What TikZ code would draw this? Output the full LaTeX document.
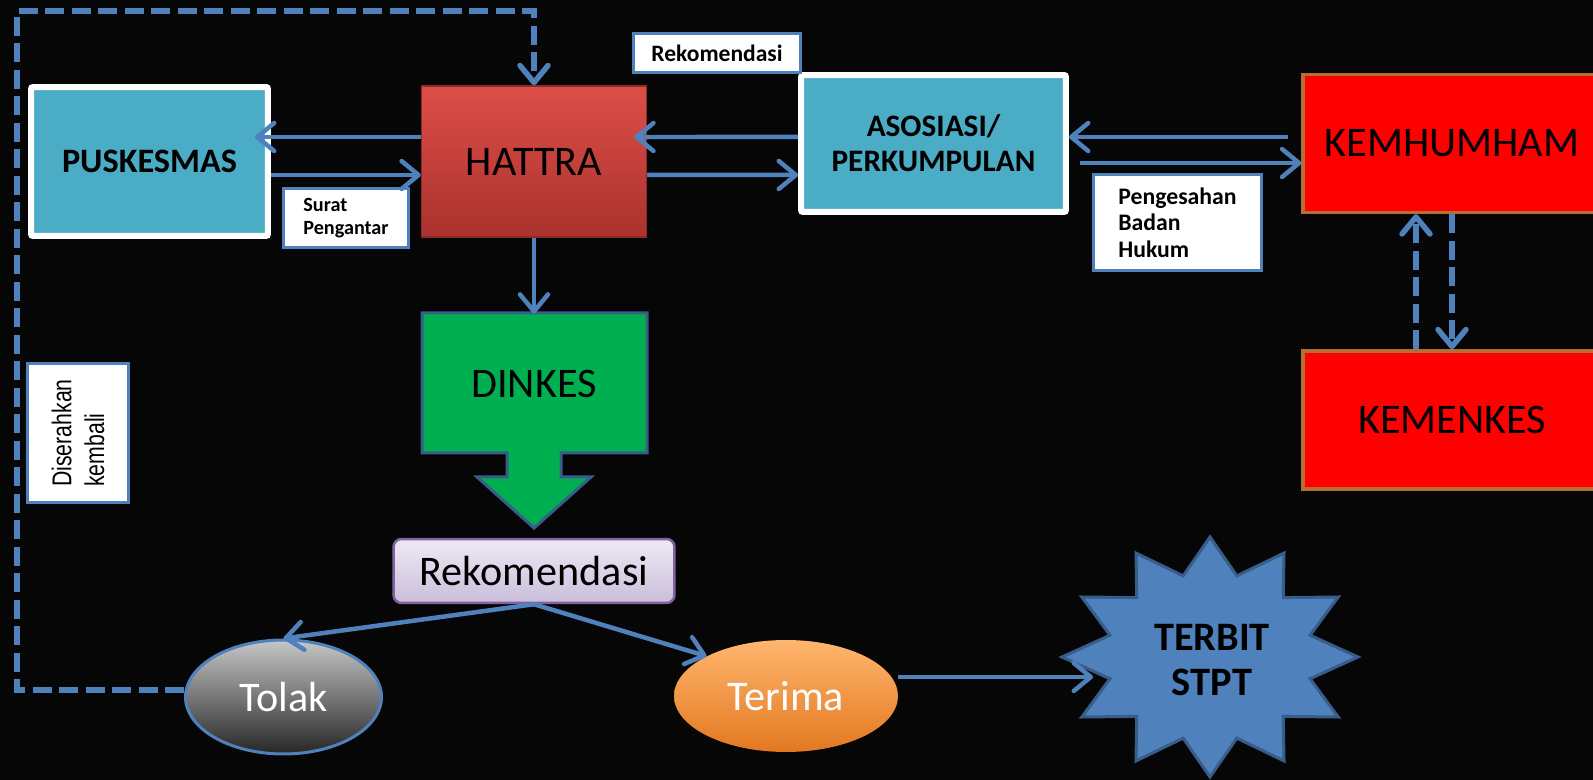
\documentclass[tikz,border=0pt]{standalone}
\usepackage{fontspec}
\setmainfont{Carlito}
\newfontfamily\arialfont{Liberation Sans}
\usetikzlibrary{shapes.geometric,arrows.meta}

\definecolor{conn_blue}{RGB}{79,129,189}
\definecolor{teal_fill}{RGB}{75,172,198}
\definecolor{hattra_top}{RGB}{222,78,72}
\definecolor{hattra_bot}{RGB}{170,50,46}
\definecolor{hattra_line}{RGB}{140,40,37}
\definecolor{dinkes_fill}{RGB}{0,176,80}
\definecolor{dark_blue}{RGB}{56,93,138}
\definecolor{kem_fill}{RGB}{255,0,0}
\definecolor{kem_line}{RGB}{180,112,52}
\definecolor{rekom_top}{RGB}{238,233,245}
\definecolor{rekom_bot}{RGB}{202,190,218}
\definecolor{rekom_line}{RGB}{128,100,162}
\definecolor{terima_top}{RGB}{255,182,110}
\definecolor{terima_bot}{RGB}{226,120,32}
\definecolor{bg_dark}{RGB}{6,6,6}

\begin{document}
\begin{tikzpicture}[x=0.02cm,y=-0.02cm,
	conn/.style={draw=conn_blue,line width=0.09cm,-{Straight Barb[length=0.34cm,width=0.56cm,round]}},
	dash_conn/.style={conn,line width=0.11cm,dash pattern=on 0.38cm off 0.15cm},
	teal_box/.style={rectangle,fill=teal_fill,draw=white,line width=0.12cm,rounded corners=0.04cm,align=center},
	red_box/.style={rectangle,fill=kem_fill,draw=kem_line,line width=0.07cm,minimum width=5.96cm,minimum height=2.76cm,font=\fontsize{24}{28}\selectfont},
	label_box/.style={rectangle,fill=white,draw=conn_blue,line width=0.06cm,inner sep=0pt,align=left},
	oval_node/.style={ellipse,inner sep=0pt,text=white,font=\fontsize{24}{28}\selectfont}]
	    \fill[bg_dark] (0,0) rectangle (1593,780);
	    \useasboundingbox (0,0) rectangle (1593,780);
	    
	    \draw[draw=dark_blue,line width=0.06cm,fill=dinkes_fill] (422,313) -- (647,313) -- (647,453) -- (561,453) -- (561,477) -- (591,477) -- (534,528) -- (477,477) -- (507,477) -- (507,453) -- (422,453) -- cycle;
	    \draw[draw=dark_blue,line width=0.06cm,fill=conn_blue,shift={(1210,657)},xscale=1.2333] (0:120) \foreach \a [evaluate=\a as \r using {mod(\a,2)==0 ? 120 : 84}] in {1,...,23} { -- (\a*15:\r) } -- cycle;
	    
	    \node[teal_box,minimum width=4.74cm,minimum height=2.98cm,font=\bfseries\fontsize{19.5}{24}\selectfont] (puskesmas) at (149.5,161.5) {PUSKESMAS};
	    \node[rectangle,top color=hattra_top,bottom color=hattra_bot,draw=hattra_line,line width=0.03cm,minimum width=4.5cm,minimum height=3.02cm,font=\fontsize{24}{28}\selectfont] (hattra) at (534,161.5) {HATTRA};
	    \node[teal_box,minimum width=5.3cm,minimum height=2.74cm,font=\bfseries\fontsize{17.8}{20}\selectfont] (asosiasi) at (933.5,143.5) {ASOSIASI/\\PERKUMPULAN};
	    \node[red_box] (kemhumham) at (1452,143.5) {KEMHUMHAM};
	    \node[red_box] (kemenkes) at (1452,420) {KEMENKES};
	    \node[rectangle,minimum width=4.5cm,minimum height=2.8cm,font=\fontsize{24}{28}\selectfont] (dinkes) at (534,384) {DINKES};
	    \node[rectangle,rounded corners=0.16cm,top color=rekom_top,bottom color=rekom_bot,draw=rekom_line,line width=0.05cm,minimum width=5.62cm,minimum height=1.28cm,font=\fontsize{24}{28}\selectfont] (rekom) at (534,571) {Rekomendasi};
	    \node[oval_node,top color=black!22,bottom color=black!85,draw=conn_blue,line width=0.06cm,minimum width=3.92cm,minimum height=2.28cm] (tolak) at (283.5,697) {Tolak};
	    \node[oval_node,top color=terima_top,bottom color=terima_bot,minimum width=4.48cm,minimum height=2.24cm] (terima) at (786,696) {Terima};
	    \node[align=center,font=\bfseries\fontsize{23}{25.5}\selectfont] (stpt) at (1212,660) {TERBIT\\STPT};
	    \coordinate (stpt_in) at (1093,677);
	    
	    \node[label_box,minimum width=3.34cm,minimum height=0.78cm,font=\bfseries\fontsize{13.4}{15}\selectfont] (rekom_label) at (717,53) {Rekomendasi};
	    \node[label_box,minimum width=2.52cm,minimum height=1.2cm,font=\bfseries\fontsize{11.5}{13}\selectfont] (surat_label) at (346,218) {Surat\\Pengantar};
	    \node[label_box,minimum width=3.38cm,minimum height=1.94cm,font=\bfseries\fontsize{13.5}{15}\selectfont] (sah_label) at (1177.5,222.5) {Pengesahan\\Badan\\Hukum};
	    \node[label_box,rotate=90,xscale=0.78,minimum width=3.54cm,minimum height=2.02cm,font=\arialfont\fontsize{15.5}{18.7}\selectfont] (balik_label) at (78,433) {Diserahkan\\kembali};
	    \coordinate (loop_corner) at (17,11);
	    
	    \draw[conn,shorten >=-0.32cm] ([yshift=0.49cm]hattra.west) -- ([yshift=0.49cm]puskesmas.east);
	    \draw[conn] ([yshift=-0.27cm]puskesmas.east) -- ([yshift=-0.27cm]hattra.west);
	    \draw[conn,shorten >=-0.26cm] ([yshift=0.13cm]asosiasi.west) -- ([yshift=0.49cm]hattra.east);
	    \draw[conn] ([yshift=-0.27cm]hattra.east) -- ([yshift=-0.63cm]asosiasi.west);
	    \draw[conn,shorten <=0.26cm] ([yshift=0.13cm]kemhumham.west) -- ([yshift=0.13cm]asosiasi.east);
	    \draw[conn,shorten <=0.22cm] ([yshift=-0.39cm]asosiasi.east) -- ([yshift=-0.39cm]kemhumham.west);
	    \draw[dash_conn] ([xshift=-0.72cm]kemenkes.north) -- ([xshift=-0.72cm]kemhumham.south);
	    \draw[dash_conn] (kemhumham.south) -- (kemenkes.north);
	    \draw[conn] (hattra) -- (dinkes);
	    \draw[conn] (rekom.south) -- (tolak.north);
	    \draw[conn] (rekom.south) -- (terima.north west);
	    \draw[conn] (terima.east |- stpt_in) -- (stpt_in);
	    \draw[dash_conn] ([yshift=0.14cm]tolak.west) -| (loop_corner) -| (hattra.north);
    \end{tikzpicture}
\end{document}
